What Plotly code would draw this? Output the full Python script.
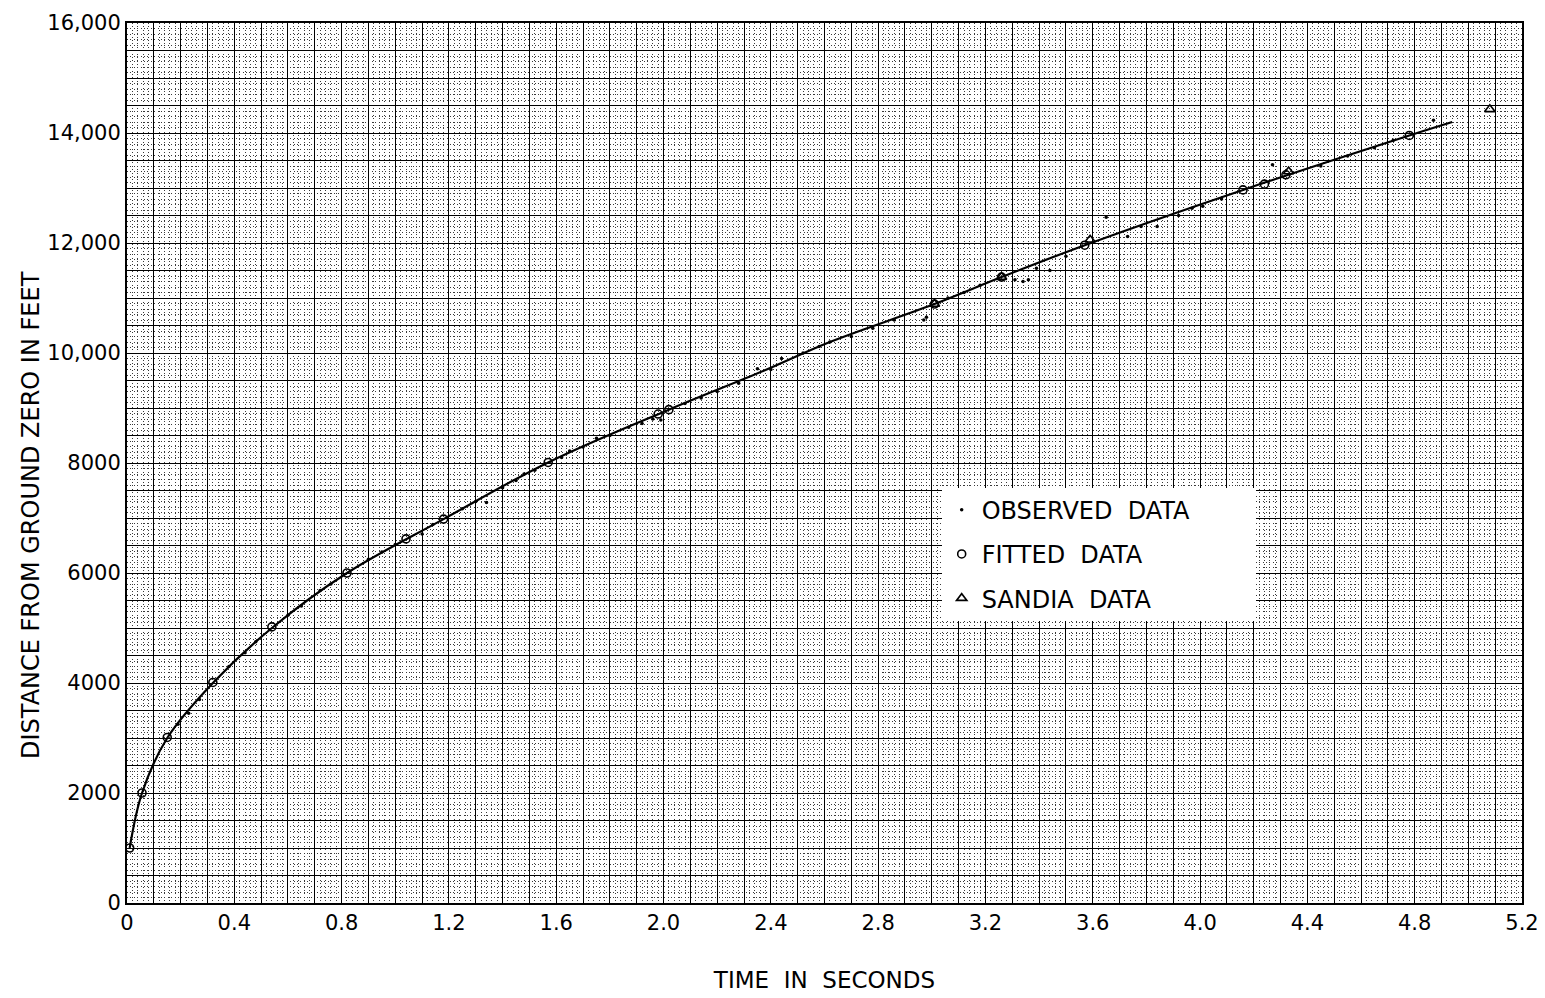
import plotly.graph_objects as go

# ---- data (time in seconds, distance in feet) ----
curve_t = [0.01, 0.056, 0.15, 0.32, 0.54, 0.82, 1.18, 1.57, 2.02, 2.38, 2.62, 3.01, 3.26, 3.57, 4.16, 4.78, 4.94]
curve_d = [1000, 2000, 3000, 4000, 5000, 6000, 6980, 8010, 8970, 9690, 10200, 10890, 11380, 11960, 12965, 13955, 14200]

fitted_t = [0.01, 0.056, 0.15, 0.32, 0.54, 0.82, 1.04, 1.18, 1.57, 1.98, 2.02, 3.01, 3.26, 3.57, 4.16, 4.24, 4.32, 4.78]
fitted_d = [1000, 2000, 3010, 4010, 5020, 6000, 6620, 6980, 8010, 8890, 8970, 10890, 11380, 11960, 12965, 13070, 13240, 13955]

sandia_t = [3.01, 3.26, 3.59, 4.33, 5.08]
sandia_d = [10890, 11380, 12060, 13300, 14430]

observed_t = [0.19, 0.23, 0.27, 0.38, 0.44, 0.48, 0.60, 0.65, 0.72, 0.76, 0.90, 0.95, 1.00, 1.10, 1.14,
              1.25, 1.30, 1.34, 1.40, 1.45, 1.48, 1.52, 1.62, 1.65, 1.70, 1.75, 1.80, 1.87, 1.92, 1.96,
              1.99, 2.08, 2.14, 2.20, 2.28, 2.35, 2.40, 2.44, 2.52, 2.58, 2.62, 2.70, 2.78, 2.86, 2.97,
              2.98, 3.06, 3.12, 3.18, 3.31, 3.34, 3.36, 3.39, 3.44, 3.50, 3.65, 3.73, 3.78, 3.84, 3.92,
              3.97, 4.01, 4.08, 4.27, 4.45, 4.55, 4.65, 4.72, 4.87]
observed_d = [3250, 3450, 3700, 4300, 4550, 4750, 5230, 5400, 5680, 5800, 6250, 6380, 6520, 6710, 6880,
              7170, 7300, 7280, 7550, 7680, 7800, 7870, 8100, 8220, 8290, 8450, 8500, 8650, 8720, 8800,
              8780, 9080, 9180, 9300, 9450, 9715, 9700, 9900, 10000, 10120, 10200, 10300, 10450, 10600, 10600,
              10650, 11000, 11100, 11230, 11330, 11300, 11330, 11540, 11500, 11760, 12470, 12120, 12300, 12300, 12500,
              12630, 12670, 12800, 13425, 13400, 13580, 13730, 13870, 14230]

x_tickvals = [0, 0.4, 0.8, 1.2, 1.6, 2.0, 2.4, 2.8, 3.2, 3.6, 4.0, 4.4, 4.8, 5.2]
x_ticktext = ["0", "0.4", "0.8", "1.2", "1.6", "2.0", "2.4", "2.8", "3.2", "3.6", "4.0", "4.4", "4.8", "5.2"]
y_tickvals = [0, 2000, 4000, 6000, 8000, 10000, 12000, 14000, 16000]
y_ticktext = ["0", "2000", "4000", "6000", "8000", "10,000", "12,000", "14,000", "16,000"]

FONT = "DejaVu Sans"
SP = "\u00a0"

fig = go.Figure()

# invisible trace to hold the overlay (graph paper heavy lines) axes
fig.add_trace(go.Scatter(x=[None], y=[None], xaxis="x2", yaxis="y2", showlegend=False,
                         hoverinfo="skip", mode="markers"))

fig.add_trace(go.Scatter(x=curve_t, y=curve_d, mode="lines", line=dict(color="black", width=2.2, shape="spline"),
                         showlegend=False, hoverinfo="skip"))

fig.add_trace(go.Scatter(x=observed_t, y=observed_d, mode="markers",
                         name="OBSERVED" + SP * 2 + "DATA" + SP * 8,
                         marker=dict(symbol="circle", size=3.5, color="black"), legendgroup="a"))
fig.add_trace(go.Scatter(x=fitted_t, y=fitted_d, mode="markers", name="FITTED" + SP * 2 + "DATA",
                         marker=dict(symbol="circle-open", size=8, color="black", line=dict(width=1.6)),
                         legendgroup="b"))
fig.add_trace(go.Scatter(x=sandia_t, y=sandia_d, mode="markers", name="SANDIA" + SP * 2 + "DATA",
                         marker=dict(symbol="triangle-up-open", size=9, color="black", line=dict(width=1.6)),
                         legendgroup="c"))

fine = dict(showgrid=True, gridcolor="#3a3a3a", gridwidth=1, griddash="1px,2.4px", ticks="")

# the page body has an 8px margin, so the figure is sized / offset to fill the 1545x998 window
fig.update_layout(
    template="none",
    width=1537, height=990,
    margin=dict(l=119, r=23, t=15, b=95),
    paper_bgcolor="white", plot_bgcolor="white",
    font=dict(family=FONT, color="black"),
    xaxis=dict(range=[0, 5.2], tickmode="array", tickvals=x_tickvals, ticktext=x_ticktext,
               tickfont=dict(size=21, family=FONT), showgrid=True, gridcolor="black", gridwidth=1.3,
               zeroline=False, showline=True, mirror=True, linecolor="black", linewidth=2,
               ticks="", automargin=False, ticklabeloverflow="allow",
               minor=dict(dtick=0.02, tick0=0, **fine),
               title=dict(text="TIME" + SP + " IN" + SP + " SECONDS", font=dict(size=23, family=FONT), standoff=38)),
    yaxis=dict(range=[0, 16000], tickmode="array", tickvals=y_tickvals, ticktext=y_ticktext,
               tickfont=dict(size=21, family=FONT), showgrid=True, gridcolor="black", gridwidth=1.3,
               zeroline=False, showline=True, mirror=True, linecolor="black", linewidth=2,
               ticks="", automargin=False, ticklabeloverflow="allow",
               minor=dict(dtick=100, tick0=0, **fine)),
    xaxis2=dict(range=[0, 5.2], overlaying="x", anchor="y2", dtick=0.1, tick0=0, showticklabels=False,
                showgrid=True, gridcolor="black", gridwidth=1.1, zeroline=False, ticks="", showline=False),
    yaxis2=dict(range=[0, 16000], overlaying="y", anchor="x2", dtick=500, tick0=0, showticklabels=False,
                showgrid=True, gridcolor="black", gridwidth=1.1, zeroline=False, ticks="", showline=False),
    legend=dict(x=0.584, y=0.472, xanchor="left", yanchor="top", bgcolor="white", borderwidth=0,
                font=dict(size=24, family=FONT), tracegroupgap=10, itemwidth=30),
    showlegend=True,
    annotations=[dict(text="DISTANCE FROM GROUND ZERO IN FEET", xref="paper", yref="paper",
                      x=-0.0688, y=0.441, xanchor="center", yanchor="middle", textangle=-90,
                      showarrow=False, font=dict(size=24, family=FONT))],
)

fig.write_html("out.html")
